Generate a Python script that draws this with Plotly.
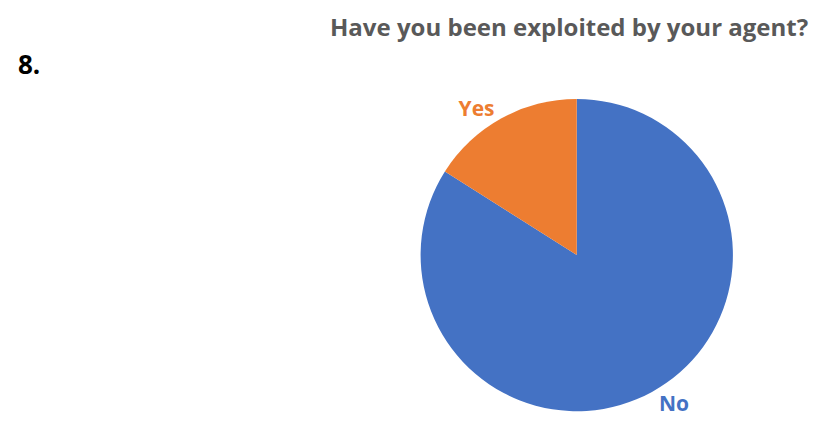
import plotly.graph_objects as go

labels = ["No", "Yes"]
values = [84, 16]
colors = ["#4472C4", "#ED7D31"]
title = "Have you been exploited by your agent?"
number = "8."

fig = go.Figure(go.Pie(
    labels=labels, values=values, sort=False, direction="clockwise", rotation=0,
    marker=dict(colors=colors),
    texttemplate="<b>%{label}</b>", textposition="outside",
    outsidetextfont=dict(family="Open Sans", size=21, color=colors),
    showlegend=False, hoverinfo="label+value",
    domain=dict(x=[0.447, 0.947], y=[0.06, 0.788]),
))
fig.update_layout(
    width=825, height=429, margin=dict(l=0, r=0, t=0, b=0),
    paper_bgcolor="white", plot_bgcolor="white",
    annotations=[
        dict(text="<b>" + title + "</b>", x=0.392, y=1.0, xref="paper", yref="paper",
             xanchor="left", yanchor="top", showarrow=False,
             font=dict(family="Open Sans", size=24, color="#595959")),
        dict(text="<b>" + number + "</b>", x=0.01, y=0.87, xref="paper", yref="paper",
             xanchor="left", yanchor="middle", showarrow=False,
             font=dict(family="Open Sans", size=26, color="#000000")),
    ],
)
fig.write_html("out.html")
